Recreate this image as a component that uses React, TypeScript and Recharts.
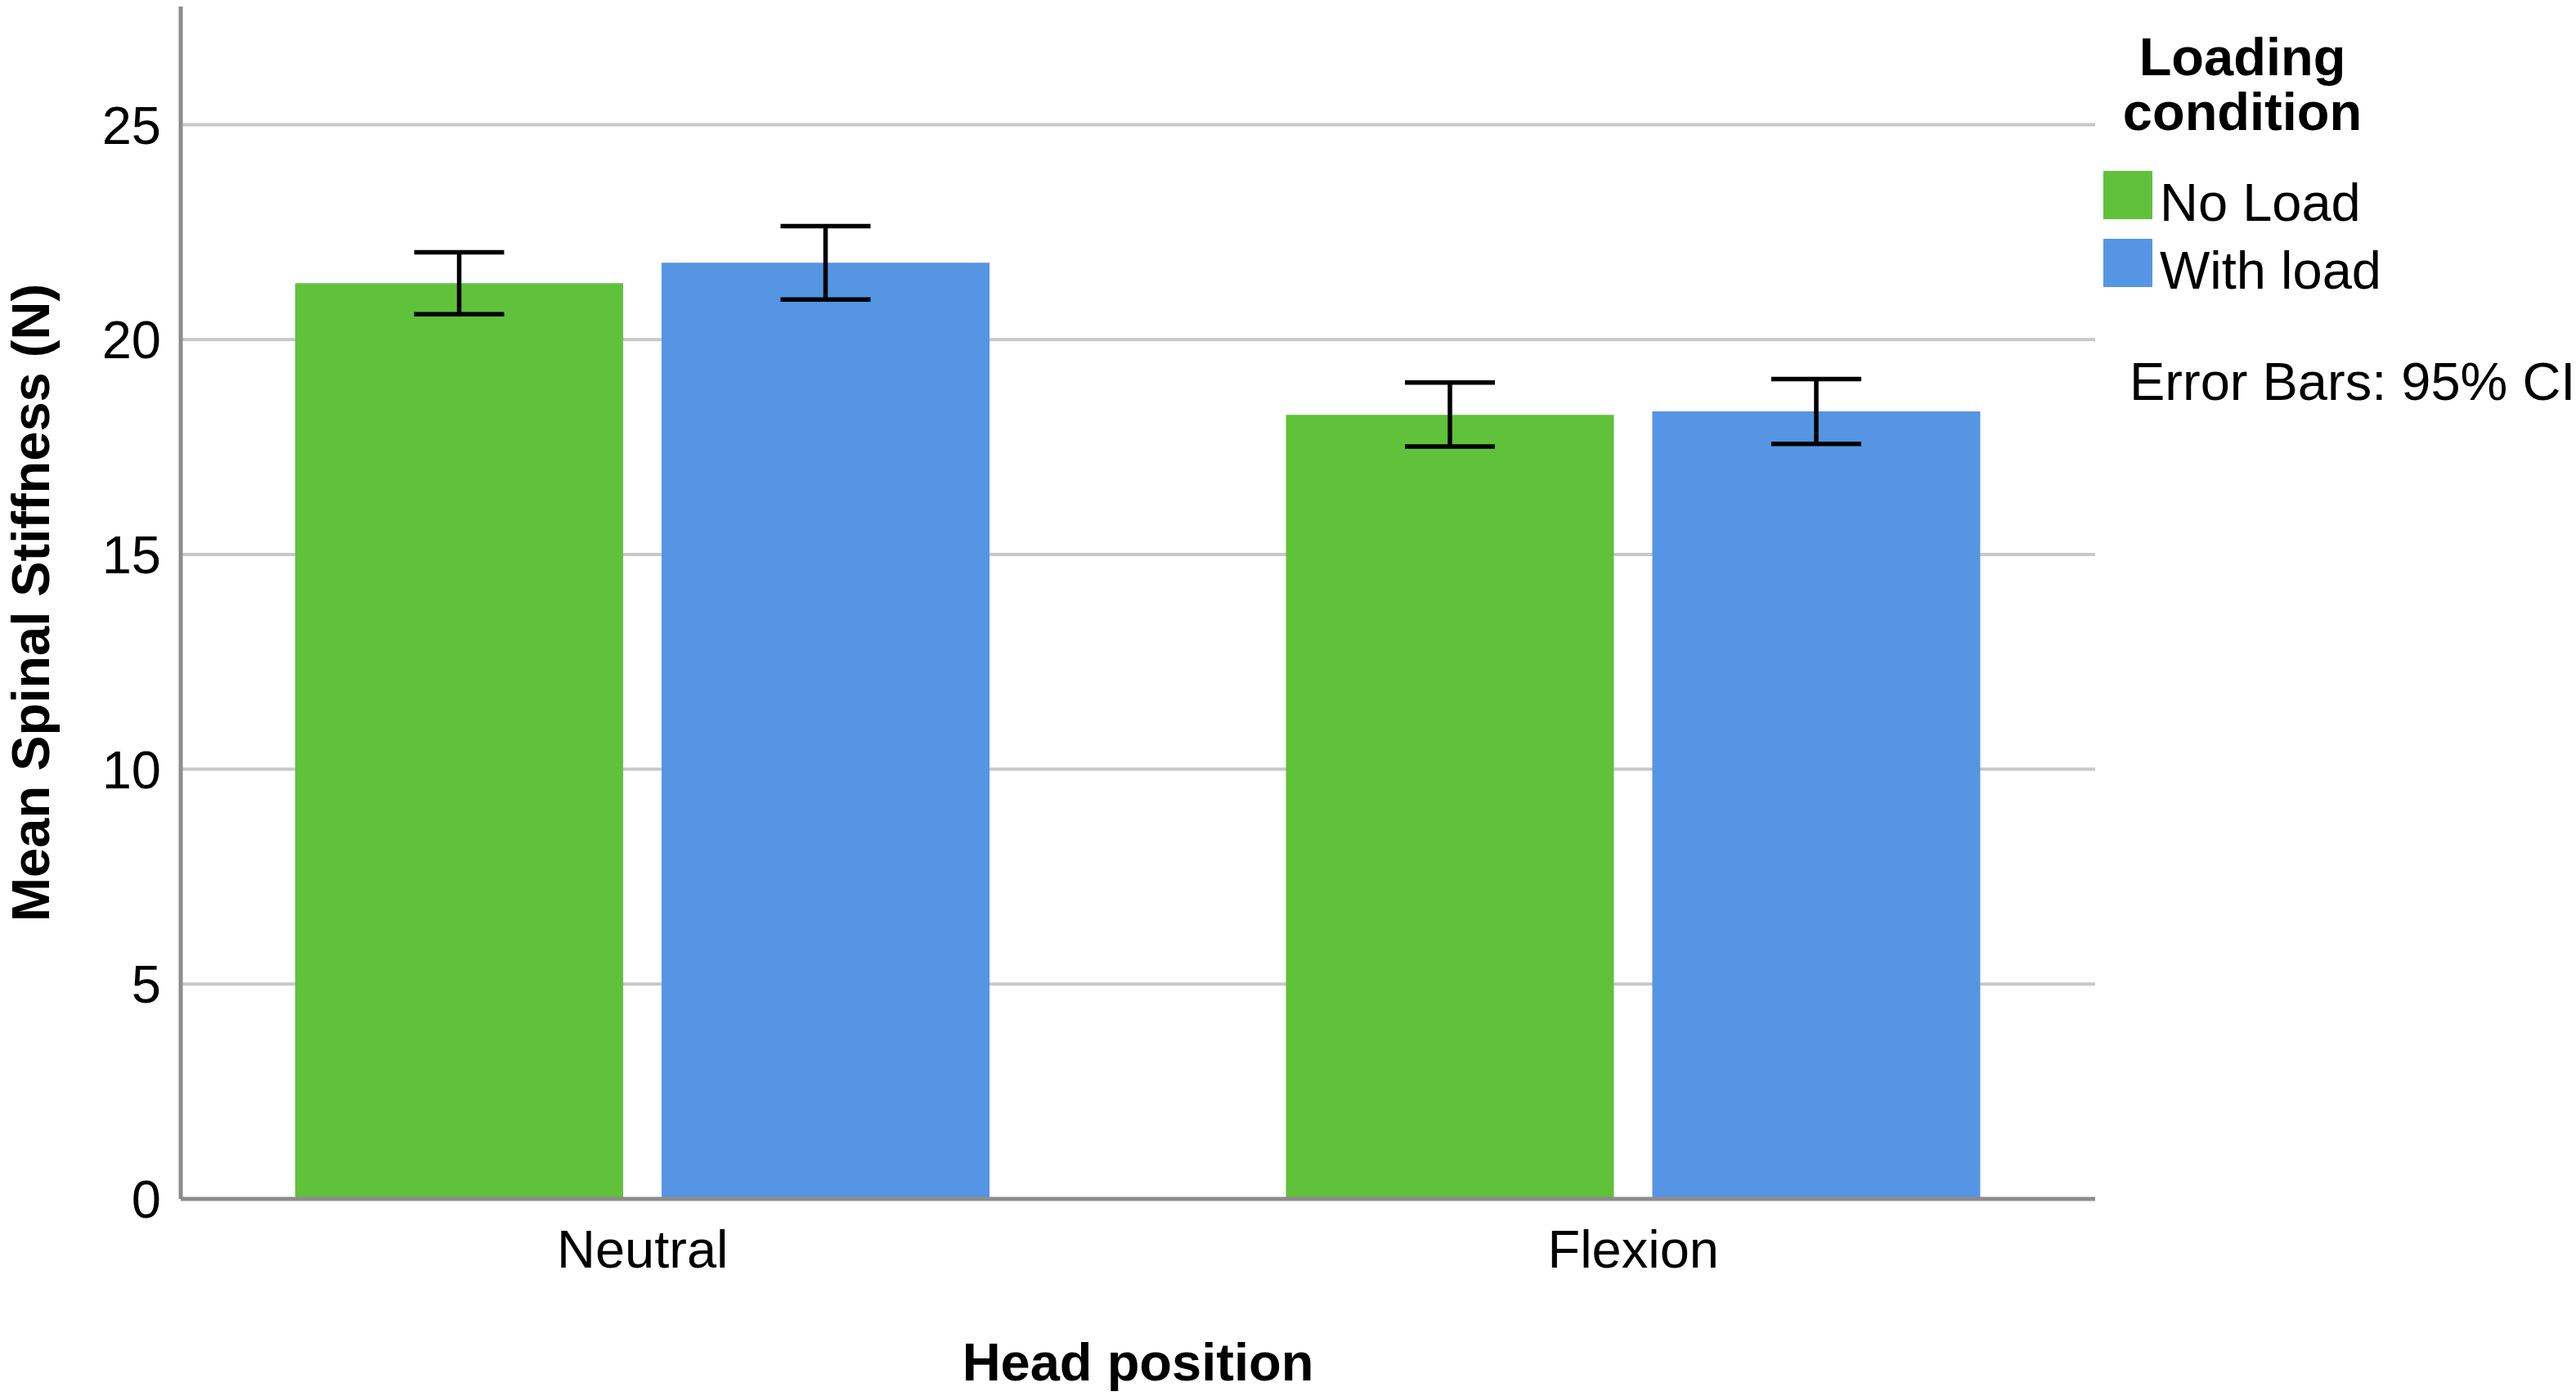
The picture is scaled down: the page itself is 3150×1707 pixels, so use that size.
import React from 'react';
import { BarChart, Bar, XAxis, YAxis, CartesianGrid, ErrorBar, Legend, Label } from 'recharts';

const categories = ['Neutral', 'Flexion'];
const noLoadMean = [21.31, 18.25];
const noLoadLower = [20.59, 17.51];
const noLoadUpper = [22.03, 19.0];
const withLoadMean = [21.79, 18.33];
const withLoadLower = [20.93, 17.57];
const withLoadUpper = [22.64, 19.08];
const yTicks = [0, 5, 10, 15, 20, 25];
const seriesNames = ['No Load', 'With load'];
const seriesColors = ['#60c23a', '#5595e3'];
const legendTitle = ['Loading', 'condition'];
const errorNote = 'Error Bars: 95% CI';

const data = categories.map((c, i) => ({
  position: c,
  noLoad: noLoadMean[i],
  noLoadErr: [noLoadMean[i] - noLoadLower[i], noLoadUpper[i] - noLoadMean[i]],
  withLoad: withLoadMean[i],
  withLoadErr: [withLoadMean[i] - withLoadLower[i], withLoadUpper[i] - withLoadMean[i]],
}));

const FONT = '"Liberation Sans", Arial, sans-serif';

const LegendContent = (props: any) => {
  const payload = props.payload || [];
  const tops = [209, 292];
  return (
    <div style={{ position: 'relative', width: 590, height: 520, fontFamily: FONT, color: '#000' }}>
      <div
        style={{
          position: 'absolute',
          left: 0,
          top: 36,
          width: 364,
          textAlign: 'center',
          fontWeight: 'bold',
          fontSize: 65,
          lineHeight: '67px',
        }}
      >
        {legendTitle.map((t) => (
          <div key={t}>{t}</div>
        ))}
      </div>
      {payload.map((p: any, i: number) => (
        <React.Fragment key={p.value}>
          <div
            style={{
              position: 'absolute',
              left: 12,
              top: tops[i],
              width: 60,
              height: 59,
              background: p.color,
            }}
          />
          <div
            style={{
              position: 'absolute',
              left: 81,
              top: tops[i] + 5,
              fontSize: 65,
              lineHeight: '67px',
              whiteSpace: 'nowrap',
            }}
          >
            {p.value}
          </div>
        </React.Fragment>
      ))}
      <div
        style={{
          position: 'absolute',
          left: 44,
          top: 433,
          fontSize: 65,
          lineHeight: '67px',
          whiteSpace: 'nowrap',
        }}
      >
        {errorNote}
      </div>
    </div>
  );
};

export default function App() {
  return (
    <div style={{ position: 'absolute', left: 0, top: 0, width: 3150, height: 1707, overflow: 'hidden', background: '#fff' }}>
      <BarChart
        width={3150}
        height={1707}
        data={data}
        margin={{ top: 8, right: 588, bottom: 0, left: 0 }}
        barGap={47}
      >
        <CartesianGrid vertical={false} horizontalValues={yTicks} stroke="#c8c8c8" strokeWidth={4} />
        <XAxis
          dataKey="position"
          height={241}
          tickLine={false}
          tickSize={0}
          tickMargin={38}
          axisLine={{ stroke: '#8c8c8c', strokeWidth: 5 }}
          padding={{ left: -41, right: -41 }}
          tick={{ fill: '#000', fontSize: 65, fontFamily: FONT }}
        >
          <Label
            value="Head position"
            position="insideBottom"
            offset={19}
            style={{ fontWeight: 'bold', fontSize: 65, fontFamily: FONT, fill: '#000' }}
          />
        </XAxis>
        <YAxis
          width={221}
          domain={[0, 27.75]}
          ticks={yTicks}
          tickLine={false}
          tickSize={0}
          tickMargin={24}
          axisLine={{ stroke: '#8c8c8c', strokeWidth: 5 }}
          tick={{ fill: '#000', fontSize: 65, fontFamily: FONT }}
        >
          <Label
            value="Mean Spinal Stiffness (N)"
            angle={-90}
            position="insideLeft"
            offset={37}
            style={{ textAnchor: 'middle', fontWeight: 'bold', fontSize: 65, fontFamily: FONT, fill: '#000' }}
          />
        </YAxis>
        <Legend
          layout="vertical"
          align="center"
          verticalAlign="middle"
          wrapperStyle={{ position: 'absolute', left: 2560, top: 0, width: 590, height: 520 }}
          content={<LegendContent />}
        />
        <Bar dataKey="noLoad" name={seriesNames[0]} fill={seriesColors[0]} barSize={401} isAnimationActive={false}>
          <ErrorBar dataKey="noLoadErr" width={55} stroke="#000" strokeWidth={5.5} direction="y" />
        </Bar>
        <Bar dataKey="withLoad" name={seriesNames[1]} fill={seriesColors[1]} barSize={401} isAnimationActive={false}>
          <ErrorBar dataKey="withLoadErr" width={55} stroke="#000" strokeWidth={5.5} direction="y" />
        </Bar>
      </BarChart>
    </div>
  );
}
